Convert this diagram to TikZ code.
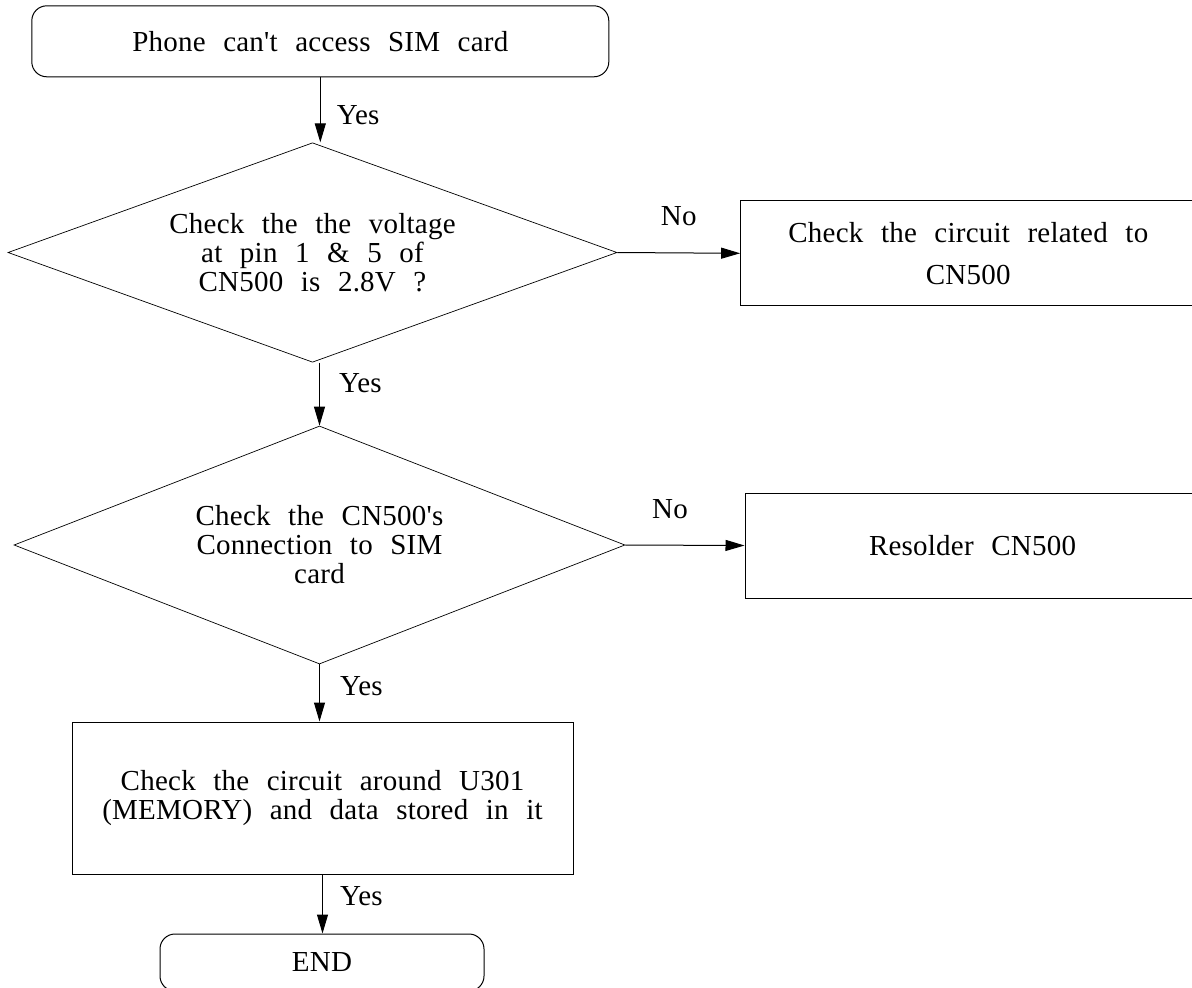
\documentclass[tikz,border=0pt]{standalone}
\usepackage{fontspec}
\setmainfont{Liberation Serif}[Ligatures=TeXOff,LetterSpace=0.8,WordSpace=2.35]
\usetikzlibrary{shapes.geometric,arrows.meta}

\begin{document}
\begin{tikzpicture}[x=1pt, y=-1pt,
                    every node/.style={font=\fontsize{29}{29}\selectfont},
                    term/.style={draw, line width=1pt, rounded corners=15pt},
                    test/.style={draw, diamond, line width=0.7pt, inner sep=0pt, align=center},
                    proc/.style={draw, rectangle, line width=1pt, align=center},
                    flow/.style={-{Triangle[length=19pt, width=11pt]}, line width=1pt},
                    yes/.style={inner sep=0pt, anchor=base west},
                    no/.style={inner sep=0pt, anchor=base, yshift=27pt}]
  \useasboundingbox (0,0) rectangle (1192,988);
  \node[term, minimum width=577pt, minimum height=71pt] (start) at (320.3,41.3) {Phone can't access SIM card};
  \node[test, aspect=2.78, minimum width=609pt, minimum height=219.5pt] (volt) at (312.5,252.5)
    {Check the the voltage\\at pin 1 \& 5 of\\CN500 is 2.8V ?};
  \node[proc, minimum width=455.3pt, minimum height=105.3pt] (circuit) at (968.3,253.3)
    {Check the circuit related to\\[13pt]CN500};
  \node[test, aspect=2.57, minimum width=611pt, minimum height=238pt] (conn) at (319.5,545)
    {Check the CN500's\\Connection to SIM\\card};
  \node[proc, minimum width=455pt, minimum height=105pt] (resolder) at (972.5,545.5) {Resolder CN500};
  \node[proc, minimum width=501pt, minimum height=152pt] (memory) at (322.5,798)
    {Check the circuit around U301\\(MEMORY) and data stored in it};
  \node[term, minimum width=324pt, minimum height=57pt] (finish) at (322,962.5) {END};

  \draw[flow] (start) -- (start |- volt.north) node[yes, pos=0.73, xshift=16pt] {Yes};
  \draw[flow] (volt.east) -- (circuit.west) node[no, pos=0.5] {No};
  \draw[flow] (conn.north |- volt.south) -- (conn.north) node[yes, pos=0.47, xshift=19pt] {Yes};
  \draw[flow] (conn.east) -- (resolder.west) node[no, pos=0.375] {No};
  \draw[flow] (conn.south) -- (conn.south |- memory.north) node[yes, pos=0.55, xshift=20pt] {Yes};
  \draw[flow] (memory.south) -- (memory.south |- finish.north) node[yes, pos=0.53, xshift=17pt] {Yes};
\end{tikzpicture}
\end{document}
